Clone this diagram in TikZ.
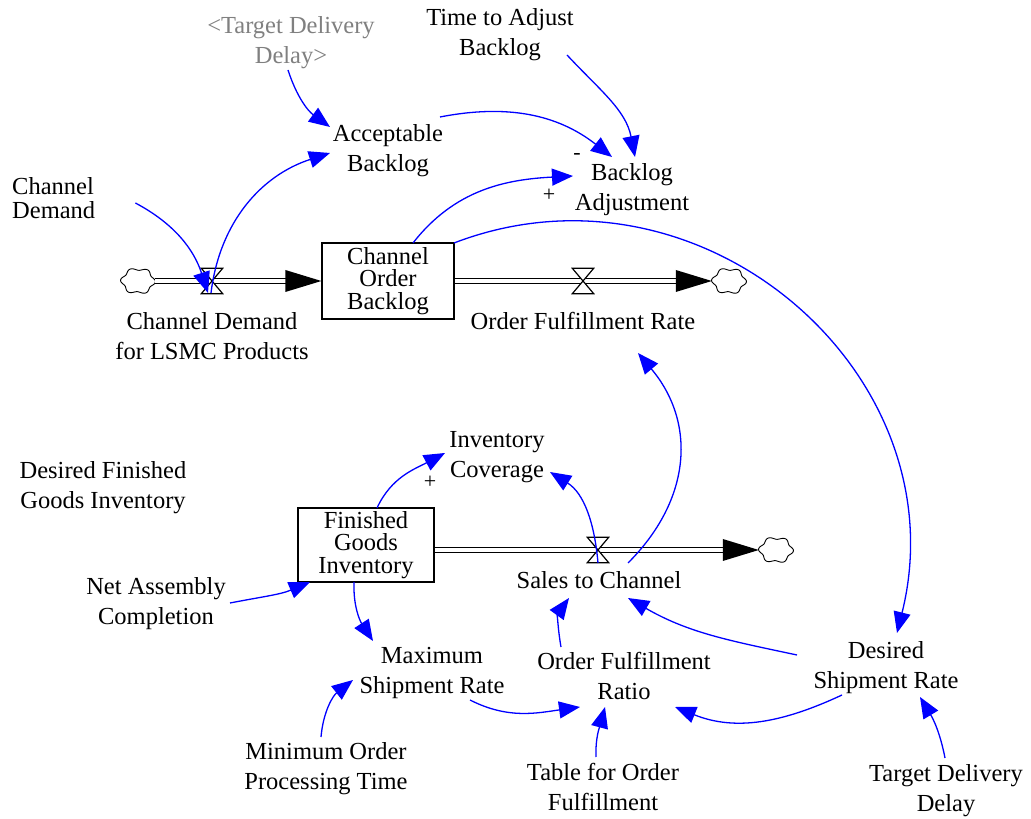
\documentclass[tikz,border=0pt]{standalone}
\usepackage{fontspec}
\setmainfont{Liberation Serif}
\usetikzlibrary{arrows.meta}
\definecolor{shadowgray}{gray}{0.5}
\begin{document}
\begin{tikzpicture}[x=1pt,y=1pt,
  lbl/.style={align=center, inner sep=0pt, font=\fontsize{24.5}{30}\selectfont},
  tightlbl/.style={align=left, inner sep=0pt, font=\fontsize{24.5}{24}\selectfont},
  stock/.style={draw, line width=1.3pt, inner sep=0pt, align=center,
     font=\fontsize{24.5}{22.5}\selectfont},
  sign/.style={inner sep=0pt, font=\fontsize{22}{22}\selectfont},
  link/.style={draw=blue, line width=1.3pt, -{Triangle[length=21pt,width=17pt]}},
  pipe/.style={draw=black, double=white, double distance=4pt, line width=1.2pt},
  valvebox/.style={minimum width=21pt, minimum height=25pt, inner sep=0pt},
  cloudbox/.style={minimum width=34pt, minimum height=26pt, inner sep=0pt},
]
\useasboundingbox (0,0) rectangle (1031,819);

% stocks
\node[stock, minimum width=132pt, minimum height=76pt] (cob) at (388,538) {Channel\\Order\\Backlog};
\node[stock, minimum width=136pt, minimum height=74pt] (fgi) at (366,274) {Finished\\Goods\\Inventory};

% clouds and valves
\node[cloudbox] (c1) at (138,538) {};
\node[cloudbox] (c2) at (729,538) {};
\node[cloudbox] (c3) at (776,269) {};
\node[valvebox] (v1) at (212,538) {};
\node[valvebox] (v2) at (583,538) {};
\node[valvebox] (v3) at (598,269) {};
\foreach \c in {c1,c2,c3}{
  \draw[line width=0.9pt, fill=white, shift={(\c.center)}]
    plot[domain=0:360, samples=121] ({16*cos(\x)*(1+0.09*cos(6*\x+20))}, {12*sin(\x)*(1+0.11*cos(6*\x+20))}) -- cycle;
}

% pipes
\draw[pipe] (c1.east) -- ([xshift=-20pt]cob.west);
\fill (cob.west) -- ++(-36,11) -- ++(0,-22) -- cycle;
\draw[pipe] (cob.east) -- ([xshift=-20pt]c2.west);
\fill (c2.west) -- ++(-36,11) -- ++(0,-22) -- cycle;
\draw[pipe] (fgi.east |- v3.center) -- ([xshift=-20pt]c3.west);
\fill (c3.west) -- ++(-36,11) -- ++(0,-22) -- cycle;
\foreach \v in {v1,v2,v3}{
  \draw[fill=white, line width=1.2pt] (\v.north west) -- (\v.north east) -- (\v.south west) -- (\v.south east) -- cycle;
}

% variables
\node[lbl, text=shadowgray] (tdds) at (291,776) {<Target Delivery\\Delay>};
\node[lbl] (tab) at (500,784) {Time to Adjust\\Backlog};
\node[lbl] (ab) at (388,668) {Acceptable\\Backlog};
\node[lbl] (ba) at (632,629) {Backlog\\Adjustment};
\node[tightlbl, anchor=west] (cd) at (12,621) {Channel\\Demand};
\node[lbl] (cdl) at (212,483) {Channel Demand\\for LSMC Products};
\node[lbl] (ofr) at (583,498) {Order Fulfillment Rate};
\node[lbl] (ic) at (497,362) {Inventory\\Coverage};
\node[lbl] (dfgi) at (103,331) {Desired Finished\\Goods Inventory};
\node[lbl] (stc) at (599,239) {Sales to Channel};
\node[lbl] (nac) at (156,215) {Net Assembly\\Completion};
\node[lbl] (msr) at (432,146) {Maximum\\Shipment Rate};
\node[lbl] (ofra) at (624,143) {Order Fulfillment\\Ratio};
\node[lbl] (dsr) at (886,151) {Desired\\Shipment Rate};
\node[lbl] (mopt) at (326,50) {Minimum Order\\Processing Time};
\node[lbl] (tof) at (603,32) {Table for Order\\Fulfillment};
\node[lbl] (tdd) at (946,28) {Target Delivery\\Delay};

% polarity signs
\node[sign] (sminus) at (577,662) {-};
\node[sign] (splus1) at (549,624) {+};
\node[sign] (splus2) at (430,337) {+};

% links
\draw[link] ([shift={(40,-5)}]cd.east) to[out=-28,in=108] ([shift={(-4,-12)}]v1.center);
\draw[link] ([shift={(-1,-12)}]v1.center) to[out=83,in=198] ([shift={(-58,-2)}]ab.center);
\draw[link] ([shift={(-3,-27)}]tdds.center) to[out=-72,in=144] ([shift={(-58,24)}]ab.center);
\draw[link] ([shift={(52,34)}]ab.center) to[out=11,in=142] ([shift={(-20,33)}]ba.center);
\draw[link] ([shift={(67,-20)}]tab.center) to[out=-47,in=101] ([shift={(3,33)}]ba.center);
\draw[link] ([shift={(25,38)}]cob.center) to[out=52,in=183] ([shift={(-59,14)}]ba.center);
\draw[link] ([shift={(66,38)}]cob.center) to[out=21,in=76,looseness=1.15] ([shift={(11,35)}]dsr.center);
\draw[link] ([shift={(29,17)}]stc.center) to[out=45,in=310,looseness=1.1] ([shift={(55,-32)}]ofr.center);
\draw[link] ([shift={(0,-13)}]v3.center) to[out=95,in=328] ([shift={(53,-15)}]ic.center);
\draw[link] ([shift={(11,37)}]fgi.center) to[out=65,in=208] ([shift={(-52,4)}]ic.center);
\draw[link] ([shift={(74,1)}]nac.center) to[out=11,in=203] ([shift={(-56,-37)}]fgi.center);
\draw[link] ([shift={(-12,-37)}]fgi.center) to[out=-92,in=123] ([shift={(-59,32)}]msr.center);
\draw[link] ([shift={(-5,32)}]mopt.center) to[out=85,in=218] ([shift={(-79,-7)}]msr.center);
\draw[link] ([shift={(38,-27)}]msr.center) to[out=-27,in=188] ([shift={(-44,-31)}]ofra.center);
\draw[link] ([shift={(-7,30)}]tof.center) to[out=92,in=255] ([shift={(-19,-31)}]ofra.center);
\draw[link] ([shift={(-44,-27)}]dsr.center) to[out=205,in=338] ([shift={(51,-31)}]ofra.center);
\draw[link] ([shift={(-63,29)}]ofra.center) to[out=100,in=234] ([shift={(-30,-18)}]stc.center);
\draw[link] ([shift={(-89,13)}]dsr.center) to[out=168,in=330] ([shift={(29,-18)}]stc.center);
\draw[link] ([shift={(-1,33)}]tdd.center) to[out=101,in=301] ([shift={(34,-29)}]dsr.center);
\end{tikzpicture}
\end{document}
